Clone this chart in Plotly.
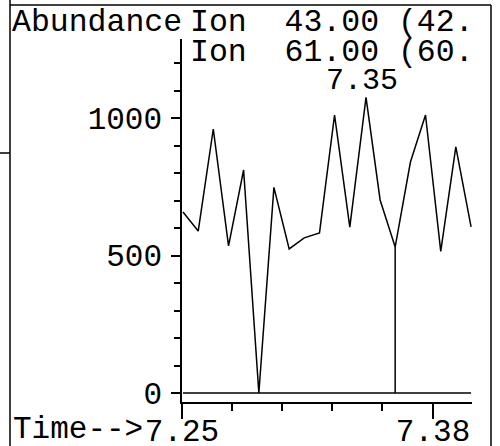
import plotly.graph_objects as go

# Scan times (min) and abundances for the two SIM ions
scan_time = [7.2505, 7.2584, 7.2662, 7.2741, 7.2819, 7.2898, 7.2976, 7.3055,
             7.3133, 7.3212, 7.3290, 7.3369, 7.3453, 7.3526, 7.3604, 7.3683,
             7.3761, 7.3840, 7.3918, 7.3997]
ion43 = [658, 589, 960, 535, 811, 0, 748, 524, 564, 582,
         1011, 603, 1075, 702, 531, 840, 1011, 515, 895, 604]
ion61 = [0] * len(scan_time)
drop_index = 14  # integration drop line

x_ticks = [7.25, 7.38]
x_minor = [7.2759, 7.3018, 7.3277, 7.3536]
y_ticks = [0, 500, 1000]
y_minor = [100, 200, 300, 400, 600, 700, 800, 900, 1100, 1200]

W, H = 500, 446
L, R, T, B = 182, 28, 39, 44
PW, PH = W - L - R, H - T - B
FONT = "Liberation Mono"
FS = 31


def px(x):
    return (x - L) / PW


def py(y):
    return (H - B - y) / PH


apex = max(range(len(ion43)), key=lambda i: ion43[i])

fig = go.Figure()
fig.add_trace(go.Scatter(x=scan_time, y=ion61, mode="lines",
                         line=dict(color="black", width=1.5), name="Ion 61.00"))
fig.add_trace(go.Scatter(x=scan_time, y=ion43, mode="lines",
                         line=dict(color="black", width=1.5), name="Ion 43.00"))
fig.add_trace(go.Scatter(x=[scan_time[drop_index]] * 2, y=[0, ion43[drop_index]],
                         mode="lines", line=dict(color="black", width=1.5),
                         showlegend=False))

txt = dict(family=FONT, size=FS, color="black")
head = dict(family=FONT, size=31.5, color="black")
peak = dict(family=FONT, size=30, color="black")
annotations = [
    dict(text="Abundance", x=px(11), y=py(22), xanchor="left", yanchor="middle", font=head),
    dict(text="Ion  43.00 (42.", x=px(189), y=py(22), xanchor="left", yanchor="middle", font=head),
    dict(text="Ion  61.00 (60.", x=px(189), y=py(53), xanchor="left", yanchor="middle", font=head),
    dict(text="Time-->", x=px(144), y=py(429), xanchor="right", yanchor="middle", font=txt),
]
for a in annotations:
    a.update(xref="paper", yref="paper", showarrow=False, borderpad=0)

annotations.append(dict(
    text=f"{scan_time[apex]:.2f}", x=scan_time[apex], y=ion43[apex],
    xref="x", yref="y", showarrow=False, xanchor="center", yanchor="bottom",
    xshift=-4, yshift=-2, font=peak, borderpad=0))

frame = dict(color="black", width=1.5)
shapes = [
    dict(type="line", xref="paper", yref="paper", x0=px(10), x1=px(10), y0=py(0), y1=py(446), line=frame),
    dict(type="line", xref="paper", yref="paper", x0=px(10), x1=px(491), y0=py(5), y1=py(5), line=frame),
    dict(type="line", xref="paper", yref="paper", x0=px(491), x1=px(491), y0=py(5), y1=py(446), line=frame),
    dict(type="line", xref="paper", yref="paper", x0=px(0), x1=px(10), y0=py(153), y1=py(153), line=frame),
]

fig.update_layout(
    width=W, height=H, margin=dict(l=L, r=R, t=T, b=B, autoexpand=False),
    paper_bgcolor="white", plot_bgcolor="white", showlegend=False,
    annotations=annotations, shapes=shapes,
    font=txt,
)
fig.update_xaxes(
    range=[7.25, 7.25 + PW / 1931], showgrid=False, zeroline=False, automargin=False,
    showline=True, linecolor="black", linewidth=1.5,
    ticks="outside", ticklen=15, tickwidth=1.5, tickcolor="black",
    tickmode="array", tickvals=x_ticks, ticktext=[f"{v:.2f}" for v in x_ticks],
    tickfont=txt, ticklabelstandoff=-15,
    minor=dict(tickmode="array", tickvals=x_minor, ticks="outside", ticklen=7,
               tickwidth=1.5, tickcolor="black", showgrid=False),
)
fig.update_yaxes(
    range=[-32.7, 1287.3], showgrid=False, zeroline=False, automargin=False,
    showline=True, linecolor="black", linewidth=1.5,
    ticks="outside", ticklen=9, tickwidth=1.5, tickcolor="black",
    tickmode="array", tickvals=y_ticks, tickfont=txt, ticklabelstandoff=3,
    minor=dict(tickmode="array", tickvals=y_minor, ticks="outside", ticklen=6,
               tickwidth=1.5, tickcolor="black", showgrid=False),
)

fig.write_html("out.html")
